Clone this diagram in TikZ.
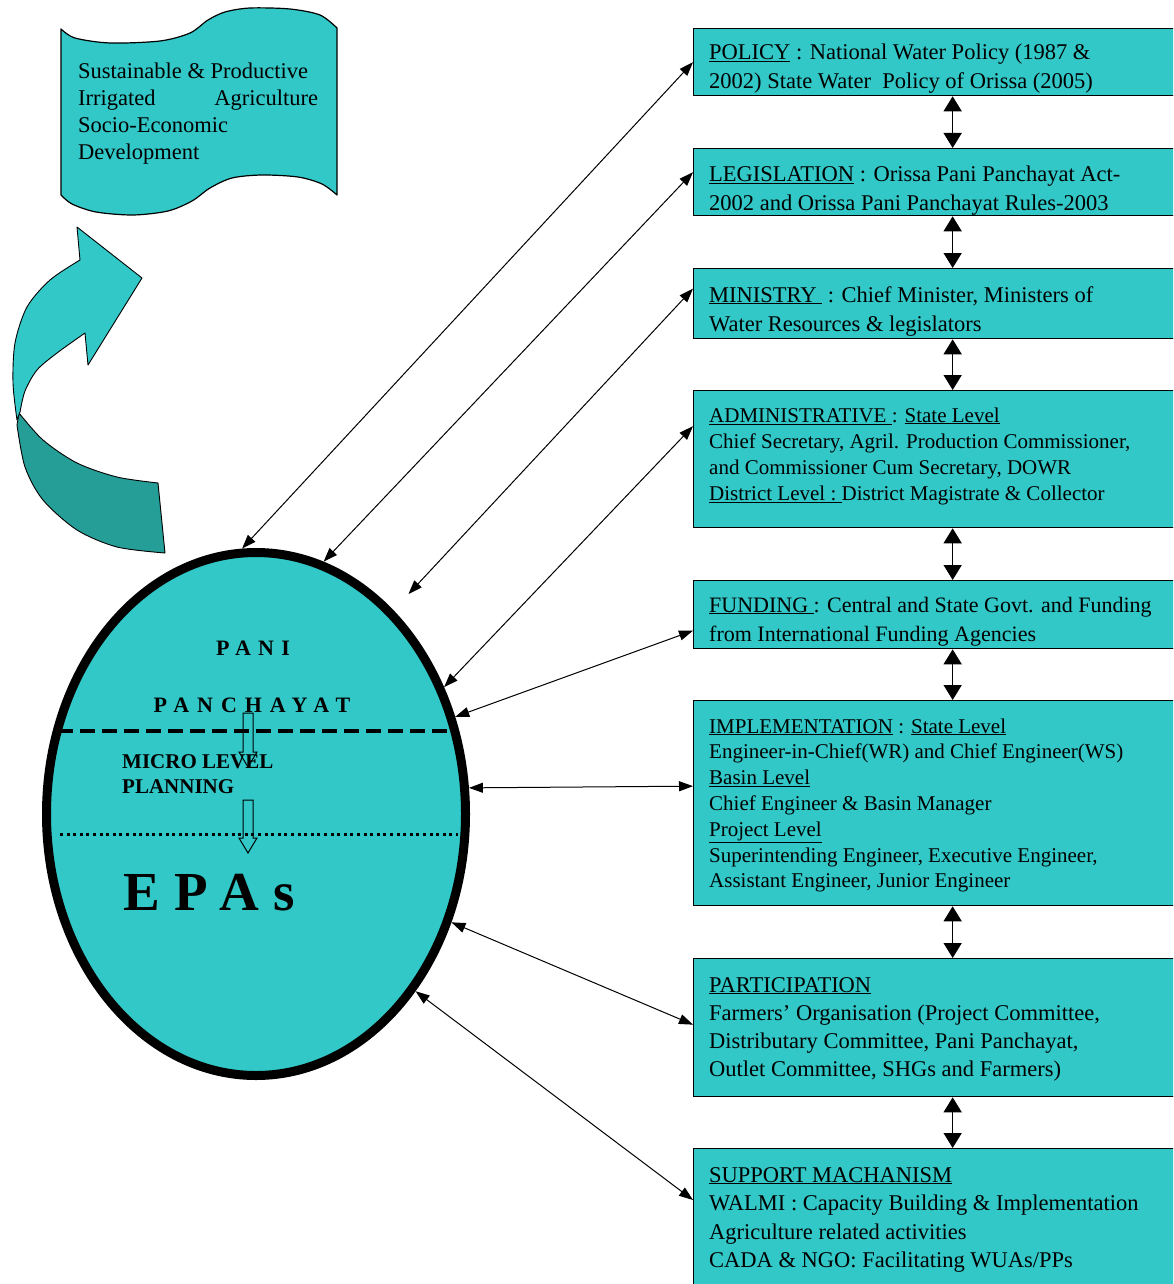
\documentclass[tikz,border=0pt]{standalone}
\usepackage{fontspec}
\setmainfont{Liberation Serif}
\usetikzlibrary{shapes.geometric,arrows.meta,calc}
\definecolor{tq}{RGB}{50,200,200}
\definecolor{tqdark}{RGB}{38,158,152}
\newcommand{\fsz}[2]{\fontsize{#1}{#2}\selectfont}
\begin{document}
\begin{tikzpicture}[x=1pt,y=-1pt,
  box/.style={draw=black, line width=1.3pt, fill=tq, anchor=north west, minimum width=518pt, inner sep=0},
  txt/.style={anchor=base west, inner sep=0},
  link/.style={line width=1pt, {Triangle[length=14pt,width=10pt]}-{Triangle[length=14pt,width=10pt]}},
  vlink/.style={line width=1.5pt, {Triangle[length=15pt,width=18pt]}-{Triangle[length=15pt,width=18pt]}},
  hollow/.style={draw=black, line width=1pt, line join=miter}
]
\useasboundingbox (0,0) rectangle (1173,1284);
\clip (0,0) rectangle (1173,1284);
\fill[white] (0,0) rectangle (1173,1284);

% ---------- banner ----------
\draw[fill=tq, line width=1.2pt, line join=round]
  plot[smooth] coordinates {(61,29) (75,38) (110,43) (160,41) (190,33) (208,20) (225,12) (250,8) (290,9) (320,15) (337,28)}
  -- (337,195)
  -- plot[smooth] coordinates {(337,195) (322,184) (298,177) (262,175) (232,178) (210,188) (192,201) (168,211) (133,215) (96,212) (72,204) (61,195)}
  -- cycle;
\node[txt] (bantxt) at (78,79) {\parbox[t]{240pt}{\fsz{22.5}{26.7}\raggedright Sustainable \& Productive\\Irrigated\hfill Agriculture\\Socio-Economic\\Development}};

% ---------- curved arrow ----------
\draw[fill=tqdark, line width=0.9pt, line join=round]
  plot[smooth] coordinates {(19,413) (43,440) (77,463) (117,477) (158,483)}
  -- (165,553)
  -- plot[smooth] coordinates {(165,553) (117,547) (77,530) (43,500) (25,467) (17,425)}
  -- cycle;
\draw[fill=tq, line width=0.9pt, line join=round]
  (142,278) -- (77,227) -- (80,260)
  -- plot[smooth] coordinates {(80,260) (50,280) (27,307) (15,343) (13,383) (17,420)}
  -- plot[smooth] coordinates {(20,412) (25,391) (37,370) (57,353) (85,333)}
  -- (88,365) -- cycle;

% ---------- ellipse ----------
\node[ellipse, draw=black, line width=9pt, fill=tq, minimum width=419pt, minimum height=523pt, inner sep=0] (ell) at (256,814) {};
\draw[line width=3.5pt, dash pattern=on 15pt off 7pt] (58,731) -- (456,731);
\draw[line width=3pt, dash pattern=on 3pt off 3.6pt] (60,834) -- (458,834);

\node[anchor=base, inner sep=0] (pani) at (253,655) {\fsz{22}{22}\bfseries\addfontfeatures{LetterSpace=33}PANI};
\node[anchor=base, inner sep=0] (panch) at (252,712) {\fsz{22}{22}\bfseries\addfontfeatures{LetterSpace=36}PANCHAYAT};
\node[txt] (micro) at (122,768) {\parbox[t]{200pt}{\fsz{21}{25}\bfseries MICRO LEVEL\\PLANNING}};
\node[txt] (epas) at (123,910) {\fsz{55}{55}\bfseries\addfontfeatures{LetterSpace=27}EPAs};

\draw[hollow] (243,713) -- (253,713) -- (253,752) -- (257,752) -- (248,767) -- (239,752) -- (243,752) -- cycle;
\draw[hollow] (243,800) -- (253,800) -- (253,838) -- (257,838) -- (248,853) -- (239,838) -- (243,838) -- cycle;

% ---------- boxes ----------
\node[box, minimum height=67pt] (pol) at (693,28) {};
\node[box, minimum height=67pt] (leg) at (693,148) {};
\node[box, minimum height=70pt] (min) at (693,268) {};
\node[box, minimum height=137pt] (adm) at (693,390) {};
\node[box, minimum height=68pt] (fund) at (693,580) {};
\node[box, minimum height=205pt] (imp) at (693,700) {};
\node[box, minimum height=138pt] (par) at (693,958) {};
\node[box, minimum height=170pt] (sup) at (693,1148) {};

\node[txt] (tpol) at ($(pol.north west)+(16,32)$) {\parbox[t]{500pt}{\raggedright\fsz{22.5}{28.5}%
  \underline{POLICY} : National Water Policy (1987 \&\\
  2002) State Water~ Policy of Orissa (2005)}};
\node[txt] (tleg) at ($(leg.north west)+(16,34)$) {\parbox[t]{500pt}{\raggedright\fsz{22.5}{29}%
  \underline{LEGISLATION} : Orissa Pani Panchayat Act-\\
  2002 and Orissa Pani Panchayat Rules-2003}};
\node[txt] (tmin) at ($(min.north west)+(16,34)$) {\parbox[t]{500pt}{\raggedright\fsz{22.5}{29.5}%
  \underline{MINISTRY\ } : Chief Minister, Ministers of\\
  Water Resources \& legislators}};
\node[txt] (tadm) at ($(adm.north west)+(16,32)$) {\parbox[t]{500pt}{\raggedright\fsz{21}{26}%
  \underline{ADMINISTRATIVE\ }: \underline{State Level}\\
  Chief Secretary, Agril. Production Commissioner,\\
  and Commissioner Cum Secretary, DOWR\\
  \underline{District Level :\ }District Magistrate \& Collector}};
\node[txt] (tfund) at ($(fund.north west)+(16,32)$) {\parbox[t]{500pt}{\raggedright\fsz{22}{29.5}%
  \underline{FUNDING\ }: Central and State Govt. and Funding\\
  from International Funding Agencies}};
\node[txt] (timp) at ($(imp.north west)+(16,33)$) {\parbox[t]{500pt}{\raggedright\fsz{21}{25.8}%
  \underline{IMPLEMENTATION} : \underline{State Level}\\
  Engineer-in-Chief(WR) and Chief Engineer(WS)\\
  \underline{Basin Level}\\
  Chief Engineer \& Basin Manager\\
  \underline{Project Level}\\
  Superintending Engineer, Executive Engineer,\\
  Assistant Engineer, Junior Engineer}};
\node[txt] (tpar) at ($(par.north west)+(16,34)$) {\parbox[t]{500pt}{\raggedright\fsz{22.5}{28.3}%
  \underline{PARTICIPATION}\\
  Farmers’ Organisation (Project Committee,\\
  Distributary Committee, Pani Panchayat,\\
  Outlet Committee, SHGs and Farmers)}};
\node[txt] (tsup) at ($(sup.north west)+(16,34)$) {\parbox[t]{500pt}{\raggedright\fsz{22.5}{28.5}%
  \underline{SUPPORT MACHANISM}\\
  WALMI : Capacity Building \& Implementation\\
  Agriculture related activities\\
  CADA \& NGO: Facilitating WUAs/PPs}};

% ---------- vertical connectors ----------
\draw[vlink] (pol.south) -- (leg.north);
\draw[vlink] (leg.south) -- (min.north);
\draw[vlink] (min.south) -- (adm.north);
\draw[vlink] (adm.south) -- (fund.north);
\draw[vlink] (fund.south) -- (imp.north);
\draw[vlink] (imp.south) -- (par.north);
\draw[vlink] (par.south) -- (sup.north);

% ---------- connectors ellipse <-> boxes ----------
\draw[link] (ell.93) -- (pol.west);
\draw[link] (ell.75) -- ([yshift=10pt]leg.west);
\draw[link, shorten <=22pt] (ell.56) -- ([yshift=15pt]min.west);
\draw[link] (ell.34) -- ([yshift=33pt]adm.west);
\draw[link] (ell.26.5) -- ([yshift=-16pt]fund.west);
\draw[link] (ell.7.5) -- ([yshift=17pt]imp.west);
\draw[link] (ell.-29) -- ([yshift=3pt]par.west);
\draw[link] (ell.-48) -- ([yshift=-52pt]sup.north west);
\end{tikzpicture}
\end{document}
